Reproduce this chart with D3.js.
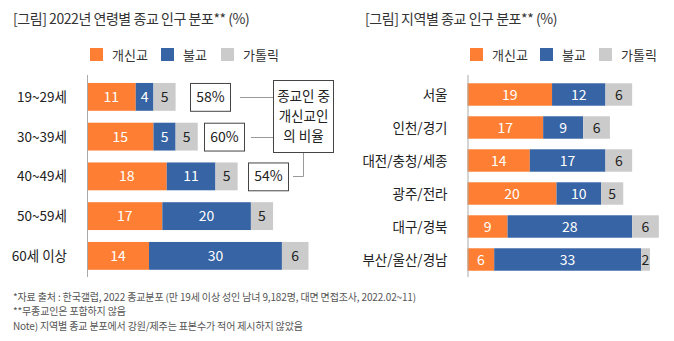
<!DOCTYPE html>
<html><head><meta charset="utf-8">
<script src="https://cdn.jsdelivr.net/npm/d3@7"></script>
<style>
body{margin:0;background:#fff;}
svg{display:block;font-family:"Noto Sans CJK KR","Noto Sans",sans-serif;}
</style></head>
<body><svg id="c" width="674" height="341"></svg>
<script>
const seriesNames = ["개신교","불교","가톨릭"];
const colors = ["#FE7F33","#3764A4","#CBCBCB"];
const labelColors = ["#fff","#fff","#222"];

const ageCats = ["19~29세","30~39세","40~49세","50~59세","60세 이상"];
const ageProt = [11,15,18,17,14];
const ageBudd = [4,5,11,20,30];
const ageCath = [5,5,5,5,6];
const ageRatio = ["58%","60%","54%"];

const regCats = ["서울","인천/경기","대전/충청/세종","광주/전라","대구/경북","부산/울산/경남"];
const regProt = [19,17,14,20,9,6];
const regBudd = [12,9,17,10,28,33];
const regCath = [6,6,6,5,6,2];

const titleLeft = "[그림] 2022년 연령별 종교 인구 분포** (%)";
const titleRight = "[그림] 지역별 종교 인구 분포** (%)";
const calloutLines = ["종교인 중","개신교인","의 비율"];
const notes = ["*자료 출처 : 한국갤럽, 2022 종교분포 (만 19세 이상 성인 남녀 9,182명, 대면 면접조사, 2022.02~11)",
  "**무종교인은 포함하지 않음",
  "Note) 지역별 종교 분포에서 강원/제주는 표본수가 적어 제시하지 않았음"];

const svg = d3.select("#c");

function drawChart(cfg){
  const g = svg.append("g");
  const rows = cfg.cats.map((c,i)=>({cat:c, vals:[cfg.s[0][i],cfg.s[1][i],cfg.s[2][i]]}));
  const x = d3.scaleLinear().domain([0,cfg.max]).range([cfg.x0, cfg.x0 + cfg.max*cfg.ppu]);
  const y = d3.scaleBand().domain(cfg.cats).range(cfg.yr).paddingInner(cfg.pi).paddingOuter(cfg.po);
  // title
  g.append("text").attr("x",cfg.tx).attr("y",24).attr("font-size",14).attr("letter-spacing",-0.45)
    .attr("fill","#333").text(cfg.title);
  // legend
  const lg = g.selectAll(".lg").data(seriesNames).join("g").attr("transform",(d,i)=>`translate(${cfg.lx[i]},48)`);
  lg.append("rect").attr("width",13).attr("height",13).attr("fill",(d,i)=>colors[i]);
  lg.append("text").attr("x",22).attr("y",11.5).attr("font-size",13).attr("fill","#333").text(d=>d);
  // bars
  const row = g.selectAll(".row").data(rows).join("g");
  row.each(function(d){
    let acc=0;
    const segs = d.vals.map((v,i)=>{const s={v,i,x0:acc,x1:acc+v}; acc+=v; return s;});
    const rg = d3.select(this);
    rg.selectAll("rect").data(segs).join("rect")
      .attr("x",s=>x(s.x0)).attr("width",s=>x(s.x1)-x(s.x0))
      .attr("y",y(d.cat)).attr("height",y.bandwidth())
      .attr("fill",s=>colors[s.i]);
    rg.selectAll("text.v").data(segs).join("text").attr("class","v")
      .attr("x",s=>(x(s.x0)+x(s.x1))/2).attr("y",y(d.cat)+y.bandwidth()/2+5)
      .attr("text-anchor","middle").attr("font-size",14).attr("fill",s=>labelColors[s.i]).text(s=>s.v);
  });
  // category labels
  g.selectAll(".cl").data(cfg.cats).join("text")
    .attr("x",cfg.x0-20).attr("y",d=>y(d)+y.bandwidth()/2+5).attr("text-anchor","end")
    .attr("font-size",13.5).attr("fill","#222").text(d=>d);
  // axis line
  g.append("line").attr("x1",cfg.x0+0.5).attr("x2",cfg.x0+0.5).attr("y1",75).attr("y2",277).attr("stroke","#aaa");
  return {x,y};
}

const L = drawChart({cats:ageCats, s:[ageProt,ageBudd,ageCath], max:50, x0:87, ppu:4.43,
  yr:[77,275.75], pi:0.3, po:0.15, tx:13, title:titleLeft, lx:[90,161,221]});
drawChart({cats:regCats, s:[regProt,regBudd,regCath], max:41, x0:467.5, ppu:4.45,
  yr:[78,276], pi:0.32, po:0.16, tx:365, title:titleRight, lx:[470,540,599]});

// annotations (left chart)
const ann = svg.append("g");
const boxX = [190,204,248];
const lineC = "#999";
ageRatio.forEach((r,i)=>{
  const cat = ageCats[i];
  const by = L.y(cat), bh = L.y.bandwidth();
  ann.append("rect").attr("x",boxX[i]+0.5).attr("y",by+0.5).attr("width",40).attr("height",bh)
    .attr("fill","#fff").attr("stroke","#444");
  ann.append("text").attr("x",boxX[i]+20.5).attr("y",by+bh/2+5).attr("text-anchor","middle")
    .attr("font-size",14).attr("fill","#222").text(r);
});
// callout box
ann.append("rect").attr("x",273.5).attr("y",80.5).attr("width",60).attr("height",72).attr("fill","#fff").attr("stroke","#444");
calloutLines.forEach((t,i)=>{
  ann.append("text").attr("x",303.5).attr("y",101+i*20).attr("text-anchor","middle")
    .attr("font-size",13.5).attr("fill","#222").text(t);
});
const cy0 = L.y(ageCats[0])+L.y.bandwidth()/2, cy1 = L.y(ageCats[1])+L.y.bandwidth()/2, cy2 = L.y(ageCats[2])+L.y.bandwidth()/2;
ann.append("line").attr("x1",240).attr("x2",273).attr("y1",Math.round(cy0)+0.5).attr("y2",Math.round(cy0)+0.5).attr("stroke",lineC);
ann.append("line").attr("x1",251).attr("x2",273).attr("y1",Math.round(cy1)+0.5).attr("y2",Math.round(cy1)+0.5).attr("stroke",lineC);
ann.append("path").attr("d",`M303.5,153 V${Math.round(cy2)+0.5} H293`).attr("fill","none").attr("stroke",lineC);

// notes
svg.selectAll(".note").data(notes).join("text").attr("x",13).attr("y",(d,i)=>300.5+i*14.5)
  .attr("font-size",10).attr("letter-spacing",-0.15).attr("fill","#555").text(d=>d);
</script></body></html>
